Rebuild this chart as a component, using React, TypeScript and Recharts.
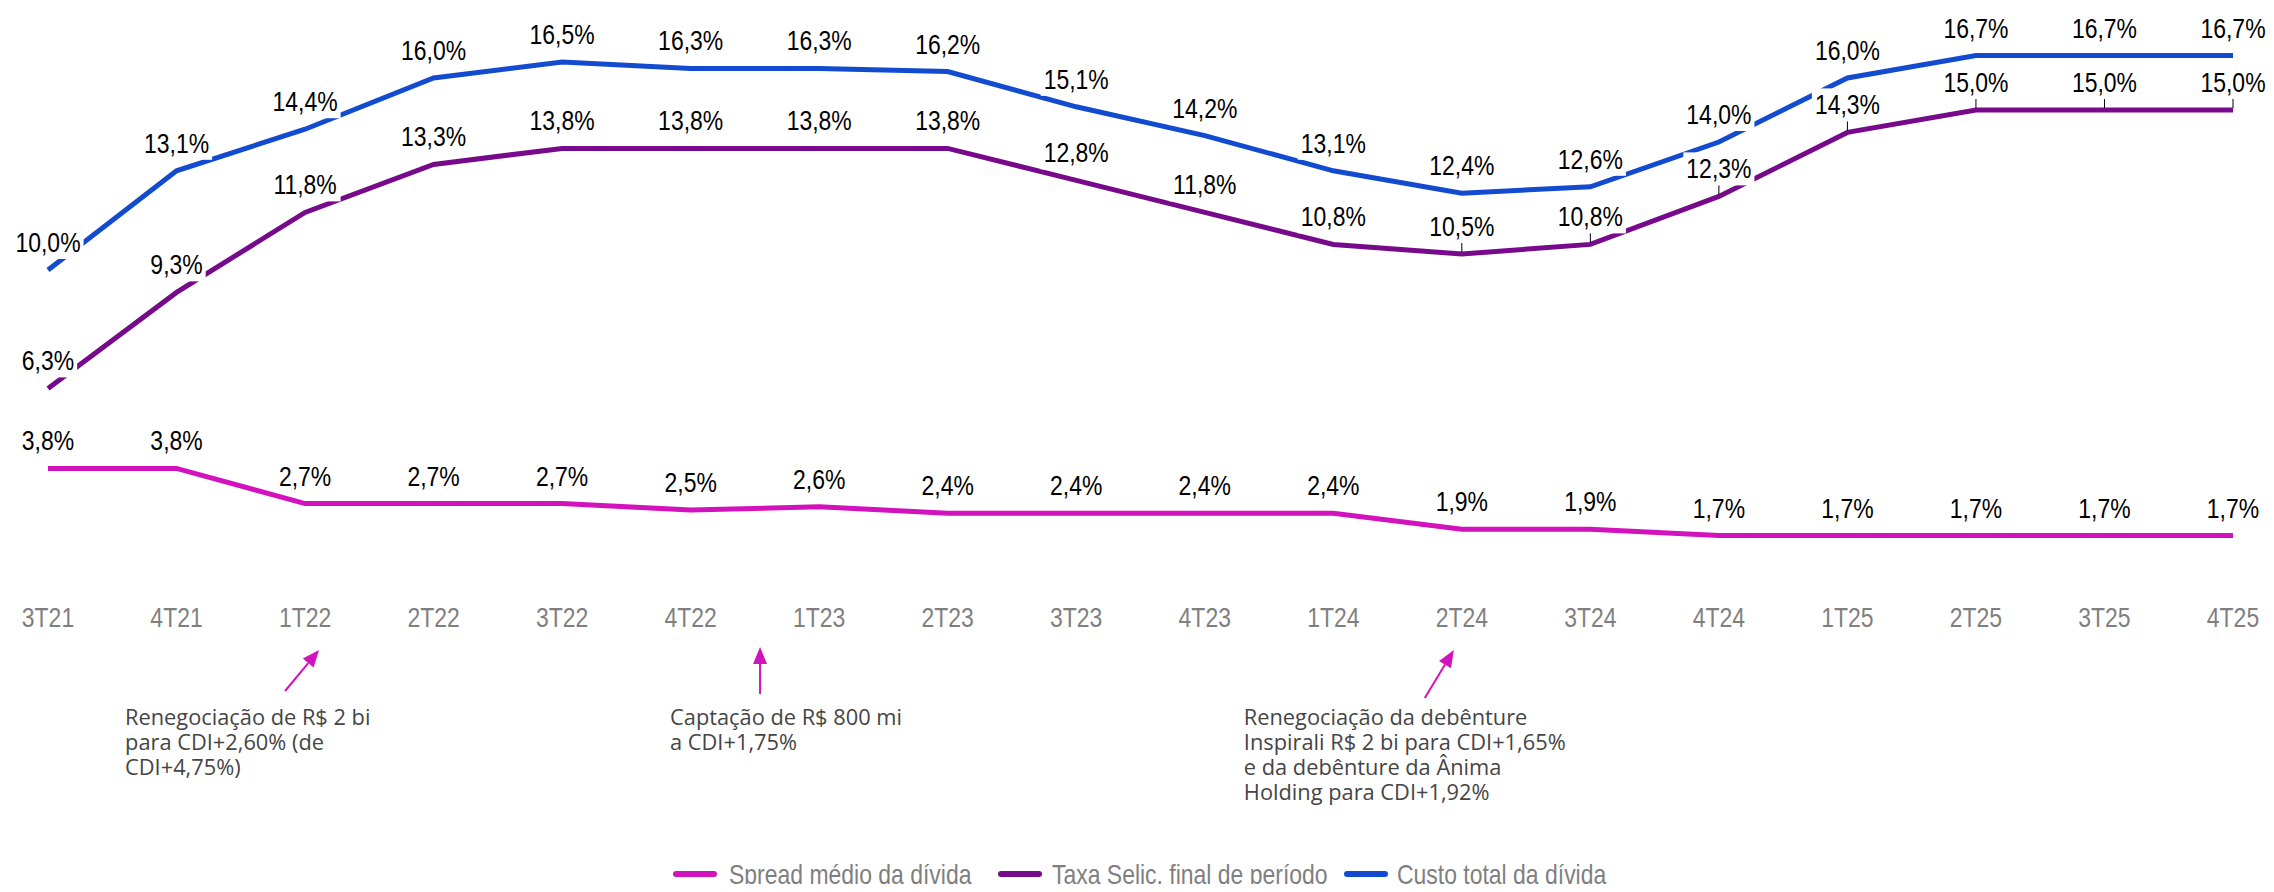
import React from 'react';
import { LineChart, Line, XAxis, YAxis, LabelList } from 'recharts';

const quarters = ['3T21','4T21','1T22','2T22','3T22','4T22','1T23','2T23','3T23','4T23','1T24','2T24','3T24','4T24','1T25','2T25','3T25','4T25'];
const spreadMedio = [3.8, 3.8, 2.7, 2.7, 2.7, 2.5, 2.6, 2.4, 2.4, 2.4, 2.4, 1.9, 1.9, 1.7, 1.7, 1.7, 1.7, 1.7];
const taxaSelic = [6.3, 9.3, 11.8, 13.3, 13.8, 13.8, 13.8, 13.8, 12.8, 11.8, 10.8, 10.5, 10.8, 12.3, 14.3, 15.0, 15.0, 15.0];
const custoTotal = [10.0, 13.1, 14.4, 16.0, 16.5, 16.3, 16.3, 16.2, 15.1, 14.2, 13.1, 12.4, 12.6, 14.0, 16.0, 16.7, 16.7, 16.7];
const selicLeaderQuarters = ['2T24', '3T24', '4T24', '1T25', '2T25', '3T25', '4T25'];

const seriesNames = {
  spread: 'Spread médio da dívida',
  selic: 'Taxa Selic, final de período',
  custo: 'Custo total da dívida',
};
const seriesColors = {
  spread: '#d212bd',
  selic: '#770a8b',
  custo: '#134bd0',
};

const annotationTexts = [
  ['Renegociação de R$ 2 bi', 'para CDI+2,60% (de', 'CDI+4,75%)'],
  ['Captação de R$ 800 mi', 'a CDI+1,75%'],
  ['Renegociação da debênture', 'Inspirali R$ 2 bi para CDI+1,65%', 'e da debênture da Ânima', 'Holding para CDI+1,92%'],
];

const data = quarters.map((q, i) => ({
  q,
  spread: spreadMedio[i],
  selic: taxaSelic[i],
  custo: custoTotal[i],
}));

const W = 2274;
const H = 892;
const MARGIN = { top: 14, right: 41, bottom: 272, left: 48 };
const SANS = "'Liberation Sans', Arial, sans-serif";
const NARROW_SCALE = 0.82;
const NOTE_FONT = "'Open Sans', 'Noto Sans', Roboto, sans-serif";

const fmt = (v: number) => v.toFixed(1).replace('.', ',') + '%';
const charW = (c: string) => (c === ',' ? 0.278 : c === '%' ? 0.889 : 0.556);
const textW = (s: string, fs: number) => s.split('').reduce((a, c) => a + charW(c), 0) * fs * NARROW_SCALE;

const NarrowText = ({ x, y, anchor = 'middle', fontSize = 28, fill = '#000', children }: any) => (
  <text
    transform={`translate(${x} ${y}) scale(${NARROW_SCALE} 1)`}
    textAnchor={anchor}
    fontSize={fontSize}
    fontFamily={SANS}
    fill={fill}
  >
    {children}
  </text>
);

const makeLabel = (withLeader: boolean) => (props: any) => {
  const { x, y, value, index } = props;
  if (x == null || y == null) return null;
  const text = fmt(Number(value));
  const fs = 28;
  const w = textW(text, fs) + 6;
  const cy = y - 28;
  const leader = withLeader && selicLeaderQuarters.includes(quarters[index]);
  return (
    <g>
      <rect x={x - w / 2} y={cy - 16} width={w} height={33} fill="#ffffff" />
      <NarrowText x={x} y={cy + 10} fontSize={fs} fill="#000000">
        {text}
      </NarrowText>
      {leader && <line x1={x} x2={x} y1={cy + 17} y2={y - 2} stroke="#000" strokeWidth={1} />}
    </g>
  );
};

const Tick = (props: any) => {
  const { x, y, payload } = props;
  return (
    <NarrowText x={x} y={y + 29} fontSize={28} fill="#7f7f7f">
      {payload.value}
    </NarrowText>
  );
};

const plotLeft = MARGIN.left;
const plotRight = W - MARGIN.right;
const step = (plotRight - plotLeft) / (quarters.length - 1);
const catX = (q: string) => plotLeft + quarters.indexOf(q) * step;

const Arrow = ({ x1, y1, x2, y2, color }: any) => {
  const dx = x2 - x1;
  const dy = y2 - y1;
  const len = Math.sqrt(dx * dx + dy * dy);
  const ux = dx / len;
  const uy = dy / len;
  const L = 17;
  const hw = 7;
  const bx = x2 - ux * L;
  const by = y2 - uy * L;
  const px = -uy;
  const py = ux;
  return (
    <g>
      <line x1={x1} y1={y1} x2={bx} y2={by} stroke={color} strokeWidth={2} />
      <polygon points={`${x2},${y2} ${bx + px * hw},${by + py * hw} ${bx - px * hw},${by - py * hw}`} fill={color} />
    </g>
  );
};

const legendItems: Array<{ key: 'spread' | 'selic' | 'custo'; sx: number; tx: number }> = [
  { key: 'spread', sx: 673, tx: 729 },
  { key: 'selic', sx: 998, tx: 1052 },
  { key: 'custo', sx: 1344, tx: 1397 },
];

const Overlay = () => {
  const arrowColor = '#d212bd';
  const a1 = catX('1T22');
  const a2 = catX('4T22') + 0.54 * step;
  const a3 = catX('2T24');
  const blocks = [
    { left: a1 - 180, arrow: { x1: a1 - 20, y1: 691, x2: a1 + 14, y2: 650 } },
    { left: a2 - 90, arrow: { x1: a2, y1: 694, x2: a2, y2: 647 } },
    { left: a3 - 218, arrow: { x1: a3 - 37, y1: 698, x2: a3 - 8, y2: 650 } },
  ];
  return (
    <svg width={W} height={H} style={{ position: 'absolute', left: 0, top: 0, pointerEvents: 'none' }}>
      {blocks.map((b, i) => (
        <g key={i}>
          <Arrow {...b.arrow} color={arrowColor} />
          {annotationTexts[i].map((t, j) => (
            <text key={j} x={b.left} y={725 + j * 25} fontSize={21.8} fontFamily={NOTE_FONT} fill="#454545">
              {t}
            </text>
          ))}
        </g>
      ))}
      {legendItems.map((it) => (
        <g key={it.key}>
          <line x1={it.sx + 3} x2={it.sx + 41} y1={874} y2={874} stroke={seriesColors[it.key]} strokeWidth={6} strokeLinecap="round" />
          <NarrowText x={it.tx} y={884} anchor="start" fontSize={28} fill="#7f7f7f">
            {seriesNames[it.key]}
          </NarrowText>
        </g>
      ))}
    </svg>
  );
};

export default function App() {
  return (
    <div style={{ position: 'relative', width: W, height: H, margin: '-8px', overflow: 'hidden', background: '#fff' }}>
      <LineChart width={W} height={H} data={data} margin={MARGIN}>
        <XAxis
          dataKey="q"
          scale="point"
          padding={{ left: 0, right: 0 }}
          axisLine={false}
          tickLine={false}
          interval={0}
          tick={<Tick />}
          height={30}
        />
        <YAxis hide domain={[0, 18]} type="number" />
        <Line dataKey="spread" name={seriesNames.spread} stroke={seriesColors.spread} strokeWidth={5} dot={false} activeDot={false} isAnimationActive={false} />
        <Line dataKey="selic" name={seriesNames.selic} stroke={seriesColors.selic} strokeWidth={5} dot={false} activeDot={false} isAnimationActive={false} />
        <Line dataKey="custo" name={seriesNames.custo} stroke={seriesColors.custo} strokeWidth={5} dot={false} activeDot={false} isAnimationActive={false} />
        <Line dataKey="spread" stroke="none" dot={false} activeDot={false} legendType="none" isAnimationActive={false}>
          <LabelList dataKey="spread" content={makeLabel(false)} />
        </Line>
        <Line dataKey="selic" stroke="none" dot={false} activeDot={false} legendType="none" isAnimationActive={false}>
          <LabelList dataKey="selic" content={makeLabel(true)} />
        </Line>
        <Line dataKey="custo" stroke="none" dot={false} activeDot={false} legendType="none" isAnimationActive={false}>
          <LabelList dataKey="custo" content={makeLabel(false)} />
        </Line>
      </LineChart>
      <Overlay />
    </div>
  );
}
